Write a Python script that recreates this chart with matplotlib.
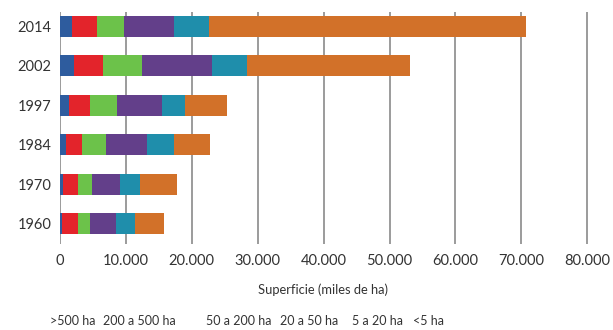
import numpy as np
import matplotlib.pyplot as plt

plt.rcParams['font.family'] = ['Lato', 'DejaVu Sans']

# --- Data (miles de ha) ---
years = ["1960", "1970", "1984", "1997", "2002", "2014"]
categories = [">500 ha", "200 a 500 ha", "50 a 200 ha", "20 a 50 ha", "5 a 20 ha", "<5 ha"]
mas_500 = [0.3, 0.5, 0.86, 1.41, 2.12, 1.78]
de_200_500 = [2.4, 2.2, 2.53, 3.14, 4.36, 3.79]
de_50_200 = [1.85, 2.2, 3.59, 4.05, 5.92, 4.19]
de_20_50 = [3.95, 4.2, 6.22, 6.9, 10.6, 7.54]
de_5_20 = [2.9, 3.0, 4.1, 3.4, 5.4, 5.36]
menos_5 = [4.4, 5.6, 5.4, 6.4, 24.7, 48.0]
series = [mas_500, de_200_500, de_50_200, de_20_50, de_5_20, menos_5]
colors = ["#2e5c9e", "#e3242b", "#6cc24a", "#633f8a", "#1f8eab", "#d27129"]
xticks = np.arange(0, 80001, 10000)
xtick_labels = ["0", "10.000", "20.000", "30.000", "40.000", "50.000", "60.000", "70.000", "80.000"]

# --- Plot ---
fig = plt.figure(figsize=(6.13, 3.3), dpi=100)
ax = fig.add_axes([60 / 613, 1 - 244 / 330, (593.8 - 60) / 613, (244 - 12) / 330])

y = np.arange(len(years))
left = np.zeros(len(years))
for vals, col, lab in zip(series, colors, categories):
    vals = np.array(vals) * 1000
    ax.barh(y, vals, left=left, height=0.53, color=col, label=lab, zorder=3)
    left += vals

ax.set_xlim(0, 81000)
ax.set_ylim(-0.51, 5.36)
ax.set_yticks(y)
ax.set_yticklabels(years, fontsize=10.5, color="#333333")
ax.set_xticks(xticks)
ax.set_xticklabels(xtick_labels, fontsize=10.5, color="#333333")
ax.tick_params(axis="both", length=0, pad=6)
ax.tick_params(axis="x", pad=7)
for xv in xticks:
    ax.axvline(xv, color="#8a8a8a", lw=1.2, zorder=1)
for s in ax.spines.values():
    s.set_visible(False)

fig.text((60 + 587) / 2 / 613, 1 - 290 / 330, "Superficie (miles de ha)",
         ha="center", va="center", fontsize=9.3, color="#333333")

# legend as text labels only
leg_x = [50, 103, 206, 280, 352, 413]
for lx, lab in zip(leg_x, categories):
    fig.text(lx / 613, 1 - 321 / 330, lab, ha="left", va="center", fontsize=9, color="#333333")

fig.savefig("out.png", dpi=100)
